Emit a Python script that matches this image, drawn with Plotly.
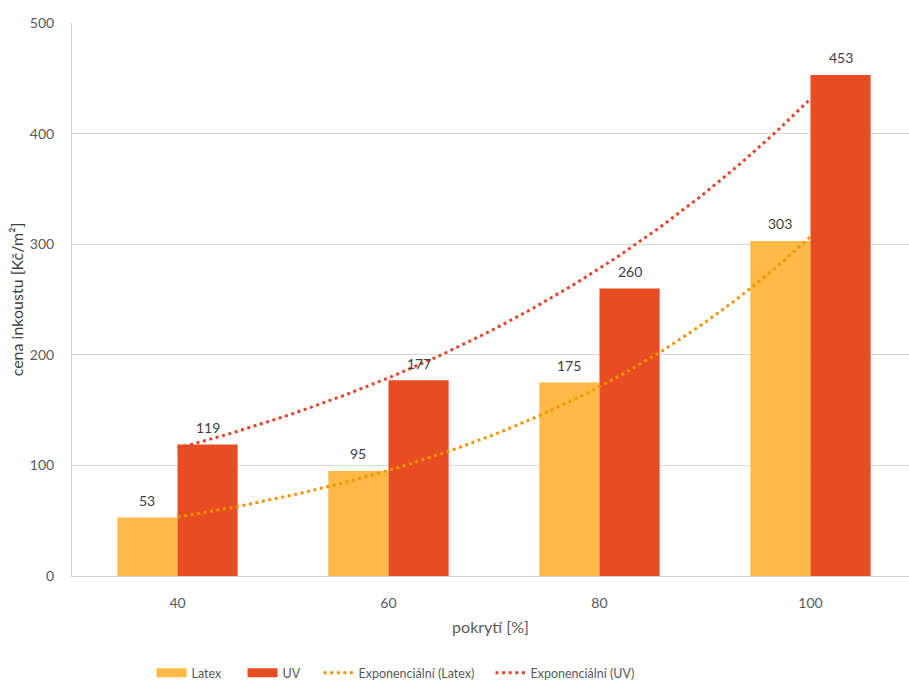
import numpy as np
import plotly.graph_objects as go

categories = ["40", "60", "80", "100"]
latex = [53, 95, 175, 303]
uv = [119, 177, 260, 453]
y_ticks = [0, 100, 200, 300, 400, 500]

C_LATEX = "#FFB946"
C_UV = "#E84C22"
C_TR_LATEX = "#F39400"
C_TR_UV = "#E8432A"

pos = np.arange(len(categories))
W = 0.285
XR = [-0.5, 3.467]
DOT = "3px,3.6px"

def exp_fit(vals):
    xs = np.arange(1, len(vals) + 1)
    b, ln_a = np.polyfit(xs, np.log(vals), 1)
    xx = np.linspace(1, len(vals), 120)
    return xx - 1, np.exp(ln_a + b * xx)

tx_l, ty_l = exp_fit(latex)
tx_u, ty_u = exp_fit(uv)

FONT = "Lato, 'Open Sans', sans-serif"

fig = go.Figure()
fig.add_trace(go.Bar(x=pos, y=latex, width=W, offset=-W, marker=dict(color=C_LATEX, line=dict(width=0)),
                     showlegend=False, hoverinfo="y"))
fig.add_trace(go.Bar(x=pos, y=uv, width=W, offset=0, marker=dict(color=C_UV, line=dict(width=0)),
                     showlegend=False, hoverinfo="y"))
fig.add_trace(go.Scatter(x=tx_l, y=ty_l, mode="lines", line=dict(color=C_TR_LATEX, width=3, dash=DOT),
                         showlegend=False, hoverinfo="skip"))
fig.add_trace(go.Scatter(x=tx_u, y=ty_u, mode="lines", line=dict(color=C_TR_UV, width=3, dash=DOT),
                         showlegend=False, hoverinfo="skip"))

# legend entries, each in its own legend for exact placement
legend_items = [("Latex", C_LATEX, 9, "solid"), ("UV", C_UV, 9, "solid"),
                ("Exponenciální (Latex)", C_TR_LATEX, 3, DOT),
                ("Exponenciální (UV)", C_TR_UV, 3, DOT)]
legend_px = [151.5, 242.5, 318.5, 490.5]
legend_names = ["legend", "legend2", "legend3", "legend4"]
for (name, col, w, dash), lg in zip(legend_items, legend_names):
    fig.add_trace(go.Scatter(x=[None], y=[None], mode="lines", name=name, legend=lg,
                             line=dict(color=col, width=w, dash=dash)))

for i in range(len(categories)):
    fig.add_annotation(x=pos[i] - W / 2, y=latex[i], text=str(latex[i]), showarrow=False, yshift=17,
                       font=dict(family=FONT, size=14, color="#404040"))
    fig.add_annotation(x=pos[i] + W / 2, y=uv[i], text=str(uv[i]), showarrow=False, yshift=17,
                       font=dict(family=FONT, size=14, color="#404040"))

layout_legends = {}
for lg, px in zip(legend_names, legend_px):
    layout_legends[lg] = dict(orientation="h", x=(px - 72) / 837, xanchor="left",
                              yref="container", y=1 - 673 / 680, yanchor="middle",
                              font=dict(size=12.5, color="#595959"), bgcolor="rgba(0,0,0,0)")

fig.update_layout(
    width=909, height=680,
    margin=dict(l=72, r=0, t=23, b=104, autoexpand=False),
    plot_bgcolor="white", paper_bgcolor="white",
    font=dict(family=FONT, size=14, color="#595959"),
    xaxis=dict(range=XR, tickvals=pos, ticktext=categories, showgrid=False, zeroline=False,
               showline=True, linecolor="#D0D0D0", linewidth=1, ticks="", ticklabelstandoff=14,
               automargin=False,
               title=dict(text="pokrytí [%]", font=dict(size=16, color="#595959"), standoff=12),
               tickfont=dict(size=14, color="#595959")),
    yaxis=dict(range=[0, 500], tickvals=y_ticks, showgrid=True, gridcolor="#D9D9D9", gridwidth=1,
               zeroline=False, showline=True, linecolor="#D0D0D0", linewidth=1, ticks="",
               ticklabelstandoff=14, automargin=False,
               title=dict(text="cena inkoustu [Kč/m²]", font=dict(size=16, color="#404040"),
                          standoff=2),
               tickfont=dict(size=14, color="#595959")),
    **layout_legends,
)

fig.write_html("out.html")
